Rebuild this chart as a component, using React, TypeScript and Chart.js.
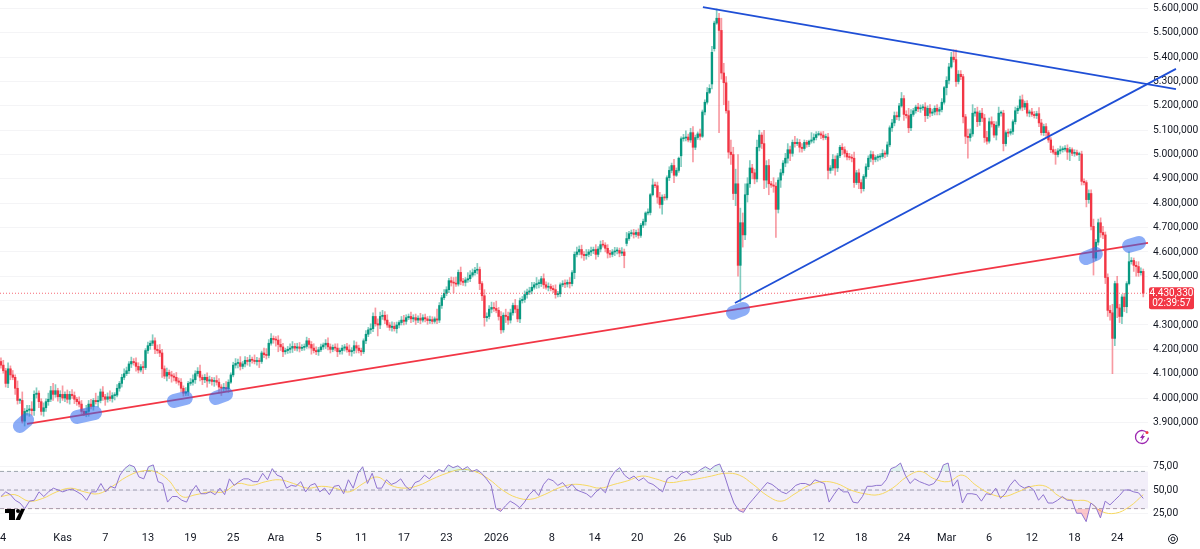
import React, { useEffect, useRef } from 'react';
import { Chart, registerables } from 'chart.js';

Chart.register(...registerables);

const UP = '#089981';
const DOWN = '#f23645';
const FONT = 'Roboto, sans-serif';

// gold, close of every candle, one row per x axis label step
const closes = [
  4135, 4112, 4060, 4120, 4095, 4085, 4040, 3990, 3990, 3905, 3945, 3950, 3955, 3948, 4015, 4020, 3985, 3945,
  3960, 3985, 3995, 4030, 4015, 4030, 4005, 4015, 4000, 4015, 3995, 4015, 4010, 3995, 3985, 3975, 3945, 3935,
  3945, 3975, 3965, 3990, 3985, 3990, 4025, 4005, 3995, 4005, 3998, 4010, 4012, 4040, 4060, 4085, 4100, 4112,
  4140, 4150, 4145, 4130, 4115, 4128, 4125, 4195, 4215, 4225, 4235, 4200, 4195, 4185, 4120, 4090, 4105, 4095,
  4090, 4085, 4070, 4065, 4040, 4020, 4025, 4060, 4065, 4075, 4100, 4110, 4085, 4075, 4085, 4070, 4075, 4068,
  4072, 4065, 4045, 4040, 4042, 4038, 4065, 4095, 4135, 4142, 4145, 4130, 4140, 4155, 4150, 4158, 4155, 4150,
  4152, 4150, 4185, 4178, 4175, 4225, 4245, 4240, 4238, 4220, 4210, 4190, 4195, 4200, 4205, 4212, 4205, 4210,
  4204, 4208, 4212, 4235, 4220, 4205, 4195, 4190, 4198, 4210, 4218, 4225, 4210, 4200, 4208, 4205, 4190, 4195,
  4205, 4210, 4198, 4190, 4195, 4215, 4205, 4195, 4190, 4235, 4262, 4280, 4285, 4335, 4305, 4300, 4335, 4340,
  4320, 4300, 4290, 4295, 4285, 4300, 4310, 4320, 4315, 4330, 4335, 4325, 4330, 4320, 4328, 4320, 4330, 4325,
  4318, 4322, 4315, 4325, 4320, 4380, 4412, 4430, 4445, 4482, 4475, 4472, 4468, 4516, 4480, 4475, 4485, 4490,
  4505, 4515, 4525, 4528, 4470, 4420, 4330, 4335, 4365, 4372, 4368, 4360, 4335, 4280, 4340, 4335, 4320, 4350,
  4380, 4365, 4325, 4400, 4405, 4425, 4435, 4440, 4455, 4465, 4470, 4470, 4490, 4465, 4455, 4458, 4450, 4445,
  4425, 4428, 4465, 4470, 4468, 4475, 4470, 4515, 4590, 4600, 4610, 4590, 4585, 4590, 4600, 4605, 4610, 4590,
  4612, 4630, 4628, 4615, 4595, 4590, 4600, 4604, 4606, 4595, 4600, 4585, 4655, 4675, 4678, 4672, 4680, 4668,
  4710, 4725, 4760, 4762, 4835, 4875, 4872, 4825, 4795, 4825, 4822, 4905, 4935, 4955, 4915, 4935, 4985, 5065,
  5068, 5072, 5060, 5090, 5030, 5070, 5085, 5075, 5175, 5215, 5255, 5272, 5420, 5540, 5560, 5510, 5335, 5295,
  5180, 5010, 5000, 4840, 4880, 4545, 4720, 4670, 4835, 4880, 4945, 4925, 4900, 5030, 5080, 5045, 4895, 4955,
  4880, 4875, 4870, 4775, 4895, 4925, 4965, 4985, 5020, 5005, 5050, 5045, 5050, 5030, 5025, 5050, 5042, 5055,
  5060, 5070, 5082, 5085, 5080, 5070, 5072, 4935, 4945, 4980, 4945, 4995, 5030, 5020, 5005, 4990, 4988, 4985,
  4885, 4925, 4885, 4860, 4910, 4950, 4985, 5000, 4980, 4988, 4990, 4992, 5005, 5002, 5040, 5110, 5130, 5160,
  5155, 5200, 5230, 5165, 5160, 5110, 5165, 5180, 5195, 5188, 5192, 5195, 5160, 5190, 5170, 5175, 5190, 5178,
  5185, 5215, 5275, 5305, 5360, 5400, 5390, 5300, 5330, 5320, 5155, 5075, 5070, 5085, 5170, 5175, 5135, 5170,
  5150, 5070, 5055, 5135, 5125, 5080, 5120, 5170, 5170, 5045, 5090, 5088, 5095, 5135, 5180, 5190, 5225, 5195,
  5210, 5170, 5175, 5165, 5160, 5168, 5130, 5090, 5115, 5090, 5060, 5020, 5010, 5000, 5015, 5020, 5022, 5025,
  5010, 5020, 5005, 5008, 5000, 5002, 4890, 4885, 4815, 4840, 4705, 4575, 4640, 4720, 4680, 4670, 4495, 4360,
  4350, 4245, 4470, 4370, 4335, 4415, 4375, 4470, 4560, 4565, 4545, 4540, 4515, 4520, 4430.33,
];

// wick length above the candle body
const upperWicks = [
  15, 20, 10, 25, 12, 18, 10, 30, 8, 35, 12, 20, 15, 30, 15, 22, 10, 12,
  20, 12, 25, 18, 30, 25, 10, 15, 35, 10, 18, 12, 20, 15, 8, 20, 15, 10,
  25, 15, 20, 8, 30, 18, 12, 22, 10, 16, 25, 12, 10, 15, 8, 12, 20, 15,
  10, 18, 12, 20, 15, 10, 22, 8, 15, 10, 25, 12, 18, 25, 15, 12, 18, 10,
  15, 10, 20, 12, 15, 10, 18, 8, 15, 20, 12, 15, 25, 10, 12, 18, 15, 10,
  12, 20, 15, 10, 18, 25, 10, 8, 12, 20, 15, 25, 10, 15, 12, 18, 10, 22,
  15, 12, 8, 20, 25, 15, 20, 10, 12, 18, 22, 15, 10, 12, 18, 20, 12, 15,
  18, 12, 10, 15, 10, 12, 18, 15, 10, 12, 8, 15, 22, 12, 10, 15, 18, 10,
  12, 10, 15, 20, 12, 20, 15, 12, 10, 8, 15, 10, 20, 15, 35, 20, 18, 20,
  15, 22, 10, 18, 15, 12, 8, 15, 20, 12, 10, 18, 12, 15, 10, 20, 12, 15,
  10, 15, 12, 8, 40, 12, 10, 15, 12, 10, 15, 20, 25, 10, 22, 12, 10, 25,
  18, 15, 12, 25, 10, 8, 25, 15, 15, 22, 20, 30, 12, 20, 10, 25, 18, 15,
  10, 25, 15, 10, 12, 15, 12, 15, 20, 10, 25, 15, 10, 20, 12, 15, 10, 12,
  20, 10, 8, 12, 15, 10, 20, 8, 10, 20, 15, 18, 12, 20, 10, 15, 10, 20,
  10, 15, 18, 10, 15, 12, 10, 15, 12, 10, 18, 12, 25, 10, 12, 15, 10, 15,
  8, 10, 5, 15, 5, 25, 12, 15, 20, 10, 12, 8, 15, 10, 25, 10, 5, 8,
  15, 25, 12, 18, 25, 10, 8, 20, 8, 10, 20, 15, 25, 8, 38, 20, 50, 40,
  25, 40, 50, 30, 60, 120, 60, 40, 45, 25, 30, 15, 15, 30, 20, 10, 55, 20,
  25, 10, 30, 15, 10, 15, 10, 20, 25, 15, 10, 25, 15, 12, 15, 10, 8, 5,
  30, 15, 12, 10, 8, 15, 12, 15, 10, 20, 15, 10, 8, 15, 12, 10, 15, 12,
  25, 10, 15, 12, 8, 12, 10, 15, 12, 8, 10, 12, 15, 10, 12, 8, 15, 15,
  15, 10, 25, 12, 15, 30, 20, 10, 8, 15, 12, 10, 18, 10, 15, 12, 10, 15,
  10, 15, 5, 15, 15, 20, 30, 40, 15, 15, 10, 10, 30, 20, 35, 15, 20, 10,
  20, 15, 25, 15, 20, 12, 15, 25, 10, 12, 8, 15, 10, 8, 15, 10, 15, 20,
  10, 12, 8, 15, 12, 10, 25, 15, 10, 12, 8, 10, 15, 12, 10, 15, 10, 12,
  15, 10, 8, 12, 10, 8, 12, 10, 8, 15, 15, 30, 12, 15, 20, 25, 12, 15,
  20, 35, 10, 30, 15, 10, 15, 8, 40, 12, 10, 15, 20, 15, 10,
];

// wick length below the candle body
const lowerWicks = [
  12, 10, 15, 18, 20, 10, 25, 15, 12, 8, 20, 15, 25, 18, 20, 15, 25, 15,
  20, 15, 15, 10, 25, 12, 18, 25, 10, 15, 15, 20, 12, 18, 15, 12, 10, 8,
  12, 20, 10, 15, 10, 22, 10, 15, 25, 12, 10, 15, 18, 8, 12, 15, 10, 8,
  12, 15, 10, 20, 12, 8, 25, 8, 12, 15, 10, 18, 12, 15, 35, 10, 20, 15,
  25, 15, 10, 12, 15, 12, 10, 15, 8, 12, 15, 10, 15, 20, 12, 25, 10, 15,
  20, 12, 25, 30, 15, 10, 15, 5, 8, 12, 18, 15, 10, 12, 15, 20, 12, 10,
  15, 25, 8, 12, 15, 10, 8, 15, 25, 30, 15, 20, 10, 12, 15, 18, 10, 12,
  15, 10, 12, 8, 15, 25, 10, 12, 15, 8, 10, 15, 12, 15, 10, 12, 20, 10,
  15, 12, 10, 15, 18, 12, 20, 10, 15, 8, 12, 10, 15, 12, 10, 45, 15, 12,
  15, 10, 12, 15, 10, 18, 12, 10, 15, 12, 8, 15, 12, 18, 10, 15, 8, 12,
  15, 12, 10, 8, 15, 10, 12, 8, 10, 12, 15, 40, 10, 8, 15, 12, 15, 10,
  12, 8, 10, 15, 25, 20, 35, 15, 10, 15, 12, 10, 15, 15, 10, 25, 18, 12,
  10, 15, 12, 15, 10, 12, 15, 10, 12, 8, 15, 18, 12, 15, 8, 15, 10, 12,
  15, 10, 12, 8, 15, 12, 18, 10, 25, 10, 12, 15, 20, 15, 10, 15, 12, 20,
  10, 12, 8, 15, 20, 12, 10, 15, 12, 15, 10, 50, 10, 8, 10, 15, 10, 12,
  8, 10, 15, 8, 10, 5, 8, 25, 15, 40, 10, 8, 12, 10, 30, 5, 8, 45,
  10, 12, 8, 10, 60, 10, 8, 15, 5, 12, 8, 5, 20, 10, 5, 420, 25, 90,
  10, 25, 40, 25, 50, 45, 150, 50, 20, 30, 15, 25, 20, 12, 15, 20, 35, 30,
  45, 10, 25, 115, 15, 30, 10, 15, 20, 30, 12, 15, 8, 20, 15, 8, 12, 10,
  8, 12, 10, 5, 15, 10, 8, 35, 12, 10, 30, 15, 8, 20, 15, 12, 10, 15,
  20, 8, 25, 18, 10, 8, 12, 15, 20, 10, 15, 12, 8, 15, 10, 8, 15, 12,
  12, 15, 5, 25, 10, 20, 12, 8, 10, 12, 15, 10, 25, 12, 15, 10, 12, 15,
  15, 10, 8, 30, 15, 5, 10, 20, 10, 12, 25, 30, 85, 15, 10, 12, 20, 15,
  15, 20, 12, 8, 12, 10, 20, 8, 12, 30, 10, 15, 8, 12, 10, 12, 8, 15,
  10, 12, 15, 8, 10, 12, 15, 10, 12, 15, 10, 12, 8, 40, 10, 12, 10, 8,
  30, 35, 10, 12, 5, 25, 15, 10, 30, 15, 15, 70, 10, 12, 20, 15, 25, 25,
  30, 145, 30, 40, 25, 30, 20, 25, 5, 10, 25, 40, 15, 10, 15,
];

// candles that did not open on the previous close
const gapIndexes = [264, 287, 300, 301];
const gapOpens = [4635, 4995, 5290, 5435];

const rsiValues = [
  43, 48, 45, 39, 36, 30, 38, 39, 48, 43, 48, 52, 50, 48, 50, 51, 48, 45, 39, 48, 48, 57, 48, 54, 52, 66, 73, 77,
  75, 64, 62, 75, 77, 59, 57, 37, 43, 43, 39, 37, 48, 55, 46, 46, 48, 45, 52, 45, 62, 55, 59, 62, 62, 59, 59, 68,
  61, 73, 66, 64, 52, 55, 54, 59, 48, 55, 57, 48, 52, 45, 54, 55, 46, 61, 52, 68, 75, 57, 68, 52, 52, 61, 56, 58,
  62, 54, 50, 58, 60, 66, 62, 68, 72, 70, 77, 74, 76, 72, 75, 70, 72, 68, 62, 55, 30, 27, 33, 38, 35, 31, 37, 45,
  50, 44, 56, 62, 60, 55, 58, 52, 56, 50, 48, 46, 42, 48, 52, 47, 62, 70, 74, 66, 62, 65, 60, 63, 58, 56, 52, 48,
  62, 65, 62, 68, 70, 66, 68, 72, 75, 72, 76, 78, 66, 50, 36, 28, 26, 34, 40, 46, 52, 58, 56, 52, 48, 46, 50, 55,
  57, 57, 55, 61, 59, 57, 37, 45, 52, 48, 48, 37, 36, 43, 54, 54, 55, 55, 61, 73, 75, 79, 66, 57, 62, 59, 57, 55,
  57, 64, 77, 79, 54, 61, 36, 46, 46, 45, 38, 46, 45, 52, 41, 46, 55, 61, 55, 52, 54, 50, 39, 45, 36, 36, 39, 43,
  39, 39, 25, 25, 16, 36, 32, 20, 38, 34, 39, 44, 50, 50, 48, 47, 41,
];

const rsiMaValues = [
  43, 45, 38, 41, 48, 52, 48, 46, 54, 64, 70, 70, 61, 43, 45, 48, 48, 57, 55, 59, 61, 57, 52, 54, 52, 48, 57, 64, 55,
  52, 55, 62, 68, 72, 70, 62, 50, 42, 40, 45, 52, 56, 55, 52, 56, 60, 65, 62, 58, 60, 62, 65, 68, 66, 56, 44, 38, 46,
  55, 59, 57, 50, 46, 45, 52, 64, 70, 62, 59, 66, 55, 46, 43, 48, 54, 54, 43, 39, 38, 27, 25, 32, 45,
];

const rsiBands = [70, 50, 30];
const rsiTicks = [25, 50, 75];
const rsiTickLabels = ['25,00', '50,00', '75,00'];

// 4.400,000 is hidden behind the last price tag
const priceTicks = [3900, 4000, 4100, 4200, 4300, 4400, 4500, 4600, 4700, 4800, 4900, 5000, 5100, 5200, 5300, 5400, 5500, 5600];
const priceTickLabels = [
  '3.900,000', '4.000,000', '4.100,000', '4.200,000', '4.300,000', '', '4.500,000', '4.600,000', '4.700,000',
  '4.800,000', '4.900,000', '5.000,000', '5.100,000', '5.200,000', '5.300,000', '5.400,000', '5.500,000', '5.600,000',
];

const xTickIndexes = [-0.4, 26, 44, 62, 80, 98, 116, 134, 152, 170, 188, 209, 232.5, 250.5, 268.5, 286.5, 304.5, 326.5, 345, 363, 381, 399, 417, 435, 453, 471];
const xTickLabels = ['24', 'Kas', '7', '13', '19', '25', 'Ara', '5', '11', '17', '23', '2026', '8', '14', '20', '26', 'Şub', '6', '12', '18', '24', 'Mar', '6', '12', '18', '24'];

// drawn lines: [candle index, price] at both ends
const redLine = [[11, 3894], [484, 4637]];
const blueFalling = [[296.2, 5606], [495.8, 5269]];
const blueRising = [[309.7, 4390], [495.8, 5352]];
const highlights = [
  [[8, 3885], [11, 3910]],
  [[32.1, 3922], [39.7, 3939]],
  [[73, 3988], [78, 4000]],
  [[90.7, 4000], [95, 4016]],
  [[308.9, 4350], [313.1, 4366]],
  [[457.8, 4575], [462, 4592]],
  [[476, 4625], [480.2, 4637]],
];

const lastPrice = 4430.33;
const lastPriceLabel = '4.430,330';
const countdownLabel = '02:39:57';

const X_MIN = -0.4;
const X_MAX = 484;

const opens = closes.map((c, i) => {
  const g = gapIndexes.indexOf(i);
  if (g >= 0) return gapOpens[g];
  return i > 0 ? closes[i - 1] : 4150;
});

const toPoints = (line: number[][]) => line.map(([x, y]) => ({ x, y }));

// no room reserved for the outer tick labels
const noPadding = (s: any) => {
  s.paddingLeft = 0;
  s.paddingRight = 0;
  s.paddingTop = 0;
  s.paddingBottom = 0;
};

// the little things around the chart that are not data
const extras = {
  id: 'extras',
  afterDraw(chart: any) {
    const { ctx, scales } = chart;
    ctx.save();

    // last price tag
    const top = scales.y.getPixelForValue(lastPrice) - 6;
    ctx.fillStyle = DOWN;
    ctx.beginPath();
    ctx.roundRect(1149, top, 45, 22, 2);
    ctx.fill();
    ctx.fillStyle = '#fff';
    ctx.font = `10px ${FONT}`;
    ctx.textAlign = 'center';
    ctx.textBaseline = 'middle';
    ctx.fillText(lastPriceLabel, 1171.5, top + 6);
    ctx.fillText(countdownLabel, 1171.5, top + 16);

    // tradingview mark
    ctx.fillStyle = '#000';
    ctx.fillRect(5, 509, 10, 4);
    ctx.fillRect(9, 509, 6, 11);
    ctx.beginPath();
    ctx.arc(18, 511, 2, 0, Math.PI * 2);
    ctx.fill();
    ctx.beginPath();
    ctx.moveTo(21, 509);
    ctx.lineTo(25, 509);
    ctx.lineTo(20, 520);
    ctx.lineTo(15.5, 520);
    ctx.fill();

    // lightning button
    ctx.strokeStyle = '#9c27b0';
    ctx.lineWidth = 1.3;
    ctx.beginPath();
    ctx.arc(1142, 437, 6.5, 0.1, Math.PI * 1.7);
    ctx.stroke();
    ctx.fillStyle = '#9c27b0';
    ctx.beginPath();
    ctx.moveTo(1144, 432.5);
    ctx.lineTo(1140, 438);
    ctx.lineTo(1142, 438);
    ctx.lineTo(1141, 441.5);
    ctx.lineTo(1145, 436);
    ctx.lineTo(1143, 436);
    ctx.fill();
    ctx.fillStyle = DOWN;
    ctx.beginPath();
    ctx.arc(1147, 432.5, 1.5, 0, Math.PI * 2);
    ctx.fill();

    // settings gear
    ctx.strokeStyle = '#131722';
    ctx.lineWidth = 1;
    ctx.beginPath();
    ctx.arc(1173, 539, 4.5, 0, Math.PI * 2);
    ctx.stroke();
    ctx.beginPath();
    ctx.arc(1173, 539, 2, 0, Math.PI * 2);
    ctx.stroke();

    ctx.restore();
  },
};

const App: React.FC = () => {
  const canvasRef = useRef<HTMLCanvasElement>(null);

  useEffect(() => {
    if (!canvasRef.current) return;

    const lineSet = (line: number[][], color: string, width: number, order: number) => ({
      type: 'line',
      data: toPoints(line),
      borderColor: color,
      borderWidth: width,
      pointRadius: 0,
      fill: false,
      clip: false,
      yAxisID: 'y',
      order,
    });

    const chart = new Chart(canvasRef.current, {
      type: 'bar',
      plugins: [extras],
      data: {
        datasets: [
          ...highlights.map((h) => ({
            ...lineSet(h, 'rgba(45,105,240,0.55)', 14, 1),
            borderCapStyle: 'round',
          })),
          lineSet(blueFalling, '#1f4fd6', 1.8, 2),
          lineSet(blueRising, '#1f4fd6', 1.8, 2),
          lineSet(redLine, '#f23645', 1.8, 2),
          {
            ...lineSet([[X_MIN, lastPrice], [X_MAX, lastPrice]], 'rgba(242,54,69,0.75)', 1, 3),
            borderDash: [1, 2],
          },
          {
            type: 'bar',
            data: closes.map((c, i) => ({ x: i, y: [opens[i], c] })),
            backgroundColor: closes.map((c, i) => (c >= opens[i] ? UP : DOWN)),
            barThickness: 1.7,
            minBarLength: 1,
            grouped: false,
            yAxisID: 'y',
            order: 4,
          },
          {
            type: 'bar',
            data: closes.map((c, i) => ({
              x: i,
              y: [Math.min(opens[i], c) - lowerWicks[i], Math.max(opens[i], c) + upperWicks[i]],
            })),
            backgroundColor: closes.map((c, i) => (c >= opens[i] ? 'rgba(8,153,129,0.5)' : 'rgba(242,54,69,0.5)')),
            barThickness: 1,
            grouped: false,
            yAxisID: 'y',
            order: 5,
          },
          {
            type: 'line',
            data: rsiMaValues.map((v, i) => ({ x: (i * (closes.length - 1)) / (rsiMaValues.length - 1), y: v })),
            borderColor: '#f6d860',
            borderWidth: 1,
            pointRadius: 0,
            tension: 0.4,
            fill: false,
            yAxisID: 'rsi',
            order: 7,
          },
          {
            type: 'line',
            data: rsiValues.map((v, i) => ({ x: (i * (closes.length - 1)) / (rsiValues.length - 1), y: v })),
            borderColor: '#8f74cf',
            borderWidth: 1,
            pointRadius: 0,
            fill: { target: { value: 30 }, above: 'rgba(0,0,0,0)', below: 'rgba(242,54,69,0.28)' },
            yAxisID: 'rsi',
            order: 6,
          },
          {
            type: 'line',
            data: rsiValues.map((v, i) => ({ x: (i * (closes.length - 1)) / (rsiValues.length - 1), y: v })),
            borderWidth: 0,
            pointRadius: 0,
            fill: { target: { value: 70 }, above: 'rgba(8,153,129,0.12)', below: 'rgba(0,0,0,0)' },
            yAxisID: 'rsi',
            order: 6,
          },
          ...rsiBands.map((b) => ({
            type: 'line',
            data: [{ x: X_MIN, y: b }, { x: X_MAX, y: b }],
            borderColor: '#a3a6af',
            borderWidth: 1,
            borderDash: [4, 3],
            pointRadius: 0,
            backgroundColor: 'rgba(126,87,194,0.1)',
            fill: b === 70 ? { target: { value: 30 } } : false,
            yAxisID: 'rsi',
            order: 8,
          })),
        ],
      },
      options: {
        responsive: false,
        animation: false,
        events: [],
        layout: { padding: 0 },
        plugins: { legend: { display: false }, tooltip: { enabled: false } },
        scales: {
          x: {
            type: 'linear',
            min: X_MIN,
            max: X_MAX,
            offset: false,
            grid: { display: false, drawTicks: false },
            border: { display: false },
            afterFit: (s: any) => { s.height = 19; noPadding(s); },
            afterBuildTicks: (s: any) => { s.ticks = xTickIndexes.map((value) => ({ value })); },
            ticks: {
              autoSkip: false,
              maxRotation: 0,
              padding: 2,
              color: '#131722',
              font: { family: FONT, size: 11 },
              callback: (_v: any, i: number) => xTickLabels[i],
            },
          },
          y: {
            type: 'linear',
            position: 'right',
            stack: 'right',
            stackWeight: 445,
            min: 3807,
            max: 5634.9,
            grid: { color: '#f4f4f6', drawTicks: false },
            border: { display: false },
            afterFit: (s: any) => { s.width = 52; noPadding(s); },
            afterBuildTicks: (s: any) => { s.ticks = priceTicks.map((value) => ({ value })); },
            ticks: {
              autoSkip: false,
              padding: 5,
              color: '#131722',
              font: { family: FONT, size: 10.3 },
              callback: (_v: any, i: number) => priceTickLabels[i],
            },
          },
          rsi: {
            type: 'linear',
            position: 'right',
            stack: 'right',
            stackWeight: 85,
            min: 7,
            max: 98.4,
            grid: { color: '#f4f4f6', drawTicks: false },
            border: { display: false },
            afterFit: (s: any) => { s.width = 52; noPadding(s); },
            afterBuildTicks: (s: any) => { s.ticks = rsiTicks.map((value) => ({ value })); },
            ticks: {
              autoSkip: false,
              padding: 5,
              color: '#131722',
              font: { family: FONT, size: 10.3 },
              callback: (_v: any, i: number) => rsiTickLabels[i],
            },
          },
        },
      },
    } as any);

    return () => {
      chart.destroy();
    };
  }, []);

  return (
    <div style={{ position: 'absolute', left: 0, top: 0, width: 1200, height: 549, background: '#fff' }}>
      <canvas ref={canvasRef} width={1200} height={549} style={{ display: 'block' }} />
    </div>
  );
};

export default App;
